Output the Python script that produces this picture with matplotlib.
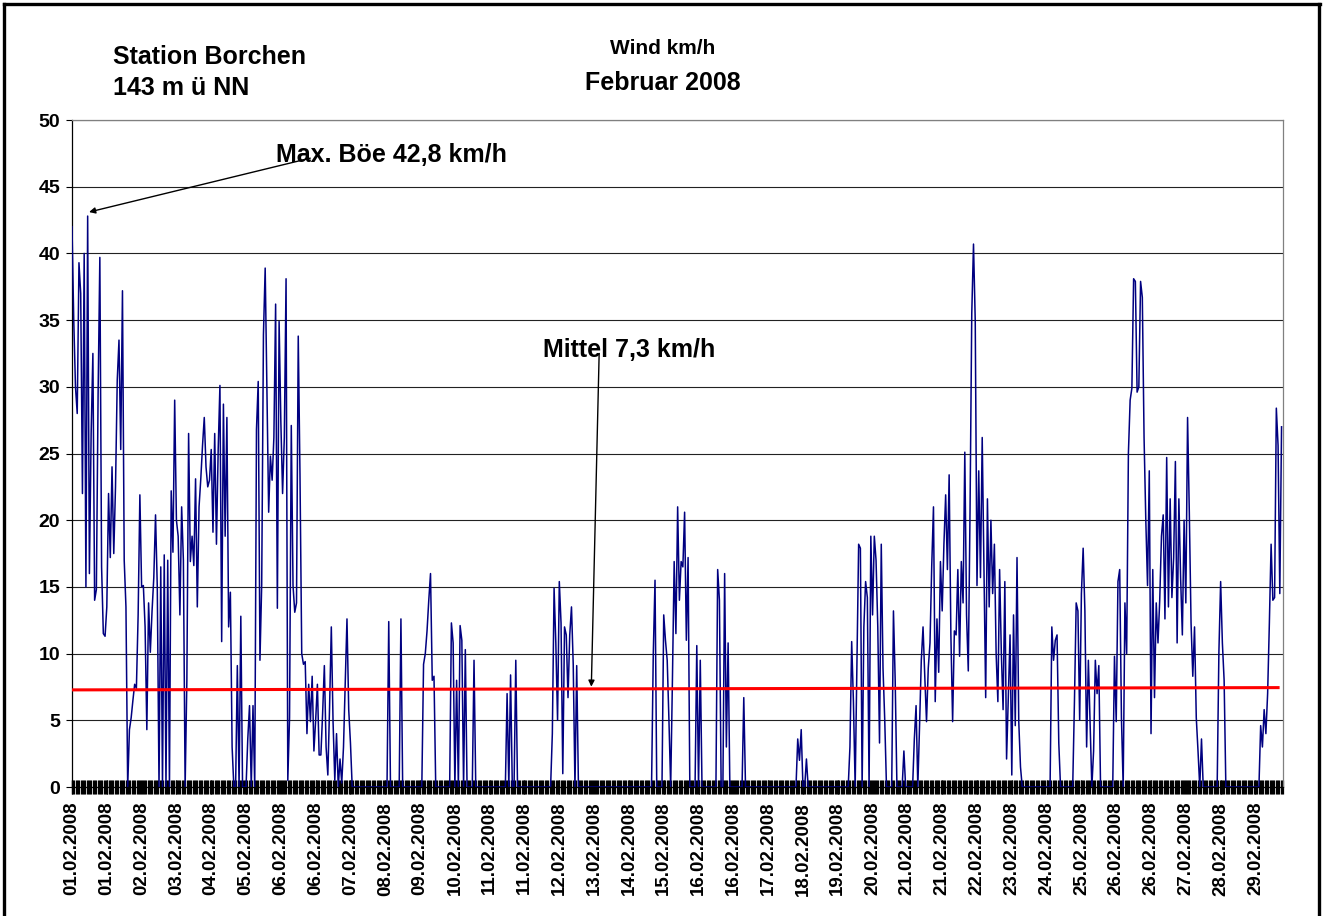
import numpy as np
import matplotlib
matplotlib.use("Agg")
import matplotlib.pyplot as plt
from matplotlib.lines import Line2D

plt.rcParams['font.family'] = ['Liberation Sans', 'DejaVu Sans']
plt.rcParams['font.weight'] = 'bold'

# hourly wind values (km/h), one list per day of February 2008
d01 = [42, 35, 30, 28, 39.3, 37, 22, 40, 15, 42.8, 16, 26.5, 32.5, 14, 14.8, 29.5, 39.7, 16.5, 11.5, 11.3, 13.5, 22, 17.2, 24]
d02 = [17.5, 22.5, 30.5, 33.5, 25.3, 37.2, 17, 13.5, 0, 4.3, 5.2, 6.5, 7.7, 7.4, 12.9, 21.9, 15, 15.1, 12, 4.3, 13.8, 10.1, 13.2, 15.7]
d03 = [20.4, 15, 0, 16.5, 0, 17.4, 0, 17, 0, 22.2, 17.6, 29, 20, 18.8, 12.9, 21, 17, 0, 8, 26.5, 16.9, 18.8, 16.6, 23.1]
d04 = [13.5, 21, 23.1, 25.6, 27.7, 24, 22.5, 23, 25.3, 19.1, 26.5, 18.2, 25.3, 30.1, 10.9, 28.7, 18.8, 27.7, 12, 14.6, 3, 0, 0, 9.1]
d05 = [0, 12.8, 0, 0, 0, 3.6, 6.1, 0, 6.1, 0, 26.8, 30.4, 9.5, 15.2, 33.9, 38.9, 30, 20.6, 24.8, 23, 26.2, 36.2, 13.4, 34.9]
d06 = [27.4, 22, 26.2, 38.1, 0.5, 5.2, 27.1, 15.1, 13.1, 13.8, 33.8, 23.4, 10, 9.2, 9.4, 4, 7.7, 4.9, 8.3, 2.7, 5, 7.7, 2.4, 2.4]
d07 = [5.5, 9.1, 3, 0.9, 6, 12, 4.9, 0.5, 4, 0, 2.1, 0.3, 3, 7.7, 12.6, 5.8, 3.3, 0, 0, 0, 0, 0, 0, 0]
d08 = [0, 0, 0, 0, 0, 0, 0, 0, 0, 0, 0, 0, 0, 0, 12.4, 0, 0, 0, 0, 0, 0, 12.6, 0, 0]
d09 = [0, 0, 0, 0, 0, 0, 0, 0, 0, 0, 9.2, 10, 11.7, 14, 16, 8, 8.3, 0, 0, 0, 0, 0, 0, 0]
d10 = [0, 0, 12.3, 10.8, 0, 8, 0, 12.1, 11, 0, 10.3, 0, 0, 0, 0, 9.5, 0, 0, 0, 0, 0, 0, 0, 0]
d11 = [0, 0, 0, 0, 0, 0, 0, 0, 0, 0, 7, 0, 8.4, 0, 0, 9.5, 0, 0, 0, 0, 0, 0, 0, 0]
d12 = [0, 0, 0, 0, 0, 0, 0, 0, 0, 0, 0, 0, 4, 14.9, 10.8, 5, 15.4, 12.3, 1, 12, 11.4, 6.7, 11.4, 13.5]
d13 = [9.2, 0, 9.1, 0, 0, 0, 0, 0, 0, 0, 0, 0, 0, 0, 0, 0, 0, 0, 0, 0, 0, 0, 0, 0]
d14 = [0, 0, 0, 0, 0, 0, 0, 0, 0, 0, 0, 0, 0, 0, 0, 0, 0, 0, 0, 0, 0, 0, 10, 15.5]
d15 = [0, 0, 0, 0, 12.9, 11, 9.5, 5, 0, 8, 16.9, 11.5, 21, 14, 16.9, 16.5, 20.6, 11, 17.2, 0, 0, 0, 0, 10.6]
d16 = [0, 9.5, 0, 0, 0, 0, 0, 0, 0, 0, 0, 16.3, 14, 0, 0, 16, 3, 10.8, 0, 0, 0, 0, 0, 0]
d17 = [0, 0, 6.7, 0, 0, 0, 0, 0, 0, 0, 0, 0, 0, 0, 0, 0, 0, 0, 0, 0, 0, 0, 0, 0]
d18 = [0, 0, 0, 0, 0, 0, 0, 0, 0, 3.6, 2, 4.3, 0, 0, 2.1, 0, 0, 0, 0, 0, 0, 0, 0, 0]
d19 = [0, 0, 0, 0, 0, 0, 0, 0, 0, 0, 0, 0, 0, 0, 0, 3, 10.9, 6.4, 0, 9, 18.2, 17.9, 0, 12]
d20 = [15.4, 14.2, 0, 18.8, 12.9, 18.8, 17, 12, 3.3, 18.2, 8.9, 5, 0, 0, 0, 0, 13.2, 8, 0, 0, 0, 0, 2.7, 0]
d21 = [0, 0, 0, 0, 3.6, 6.1, 0, 4.6, 9.5, 12, 8.3, 4.9, 8.9, 10.8, 16.6, 21, 6.4, 12.6, 8.6, 16.9, 13.2, 18.2, 21.9, 16.3]
d22 = [23.4, 11.4, 4.9, 11.7, 11.4, 16.3, 9.8, 16.9, 13.8, 25.1, 12.9, 8.7, 20.6, 35.5, 40.7, 34.9, 15.1, 23.7, 15.7, 26.2, 16.3, 6.7, 21.6, 13.5]
d23 = [20, 14.5, 18.2, 10, 6.4, 16.3, 10, 5.8, 15.4, 2.1, 6.7, 11.4, 0.9, 12.9, 4.6, 17.2, 4.9, 1.5, 0, 0, 0, 0, 0, 0]
d24 = [0, 0, 0, 0, 0, 0, 0, 0, 0, 0, 0, 12, 9.5, 11, 11.4, 3.3, 0, 0, 0, 0, 0, 0, 0, 0]
d25 = [6.4, 13.8, 13.2, 5, 14.5, 17.9, 13.2, 3, 9.5, 4.6, 0, 2.7, 9.5, 7, 9.1, 0, 0, 0, 0, 0, 0, 0, 0, 9.8]
d26 = [4.9, 15.4, 16.3, 5.2, 0, 13.8, 10, 25, 29, 29.9, 38.1, 37.9, 29.6, 30, 37.9, 36.7, 26.2, 20, 15.1, 23.7, 4, 16.3, 6.7, 13.8]
d27 = [10.8, 14, 18.8, 20.4, 12.6, 24.7, 13.5, 21.6, 14.2, 17.2, 24.4, 10.8, 21.6, 15.7, 11.4, 20, 13.8, 27.7, 20.6, 12.3, 8.3, 12, 5.2, 2.7]
d28 = [0, 3.6, 0, 0, 0, 0, 0, 0, 0, 0, 0, 10.1, 15.4, 10.8, 8, 0, 0, 0, 0, 0, 0, 0, 0, 0]
d29 = [0, 0, 0, 0, 0, 0, 0, 0, 0, 0, 0, 4.6, 3, 5.8, 4, 7, 12.3, 18.2, 14, 14.2, 28.4, 25.6, 14.5, 27]

days = [d01, d02, d03, d04, d05, d06, d07, d08, d09, d10, d11, d12, d13, d14, d15,
        d16, d17, d18, d19, d20, d21, d22, d23, d24, d25, d26, d27, d28, d29]

mean_start = 7.28
mean_end = 7.45
max_gust = 42.8

tick_labels = ["01.02.2008", "01.02.2008", "02.02.2008", "03.02.2008", "04.02.2008",
               "05.02.2008", "06.02.2008", "06.02.2008", "07.02.2008", "08.02.2008",
               "09.02.2008", "10.02.2008", "11.02.2008", "11.02.2008", "12.02.2008",
               "13.02.2008", "14.02.2008", "15.02.2008", "16.02.2008", "16.02.2008",
               "17.02.2008", "18.02.2008", "19.02.2008", "20.02.2008", "21.02.2008",
               "21.02.2008", "22.02.2008", "23.02.2008", "24.02.2008", "25.02.2008",
               "26.02.2008", "26.02.2008", "27.02.2008", "28.02.2008", "29.02.2008"]

wind = np.concatenate([np.array(d, dtype=float) for d in days])
hours = np.arange(len(wind))
total_hours = 29 * 24 - 1 / 6.0

W, H = 1328, 916
fig = plt.figure(figsize=(W / 100, H / 100), dpi=100)
ax = fig.add_axes([72 / W, 1 - 787 / H, (1283 - 72) / W, (787 - 120) / H])

ax.plot(hours, wind, color='#000080', lw=1.1, zorder=3)
ax.plot([0, 693], [mean_start, mean_end], color='#ff0000', lw=2.2, zorder=4)

ax.set_xlim(0, total_hours)
ax.set_ylim(0, 50)
ax.set_yticks(np.arange(0, 51, 5))
ax.yaxis.grid(True, color='#222222', lw=0.8)
ax.set_axisbelow(True)

ax.xaxis.remove_overlapping_locs = False
ax.set_xticks(np.arange(len(tick_labels)) * 20)
ax.set_xticklabels(tick_labels, rotation=90, fontsize=13.5, fontweight='bold')
ax.set_xticks(np.arange(0, total_hours, 0.7), minor=True)
ax.tick_params(axis='x', which='major', direction='inout', length=9.4, width=0.9, color='black', pad=6)
ax.tick_params(axis='x', which='minor', direction='inout', length=9.4, width=0.9, color='black')
ax.tick_params(axis='y', which='major', direction='out', length=4.5, width=0.8, pad=4, labelsize=14)
for lab in ax.get_yticklabels():
    lab.set_fontweight('bold')

ax.spines['left'].set_color('black')
ax.spines['bottom'].set_color('black')
ax.spines['right'].set_color('#808080')
ax.spines['top'].set_color('#808080')
for s in ax.spines.values():
    s.set_linewidth(0.9)

# annotations
ax.annotate('', xy=(9.8, 43.1), xytext=(136.9, 47.14),
            arrowprops=dict(arrowstyle='-|>', color='black', lw=1.0, mutation_scale=9,
                            shrinkA=0, shrinkB=0), zorder=5)
ax.text(117.3, 47.4, 'Max. Böe 42,8 km/h', fontsize=18, fontweight='bold', ha='left', va='center', zorder=6)

ax.annotate('', xy=(298.4, 7.52), xytext=(302.9, 32.5),
            arrowprops=dict(arrowstyle='-|>', color='black', lw=1.0, mutation_scale=9,
                            shrinkA=0, shrinkB=0), zorder=5)
ax.text(270.8, 32.75, 'Mittel 7,3 km/h', fontsize=18, fontweight='bold', ha='left', va='center', zorder=6)

# titles
fig.text(113 / W, 1 - 57 / H, 'Station Borchen', fontsize=18, fontweight='bold', ha='left', va='center')
fig.text(113 / W, 1 - 88 / H, '143 m ü NN', fontsize=18, fontweight='bold', ha='left', va='center')
fig.text(663 / W, 1 - 48 / H, 'Wind km/h', fontsize=15, fontweight='bold', ha='center', va='center')
fig.text(663 / W, 1 - 83 / H, 'Februar 2008', fontsize=18, fontweight='bold', ha='center', va='center')

# outer frame
for (x0, y0, x1, y1) in [(4, 4, 1320, 4), (4, 4, 4, H), (1319, 4, 1319, H)]:
    fig.add_artist(Line2D([x0 / W, x1 / W], [1 - y0 / H, 1 - y1 / H], color='black', lw=2.4,
                          transform=fig.transFigure))

fig.savefig('out.png', dpi=100, facecolor='white')
